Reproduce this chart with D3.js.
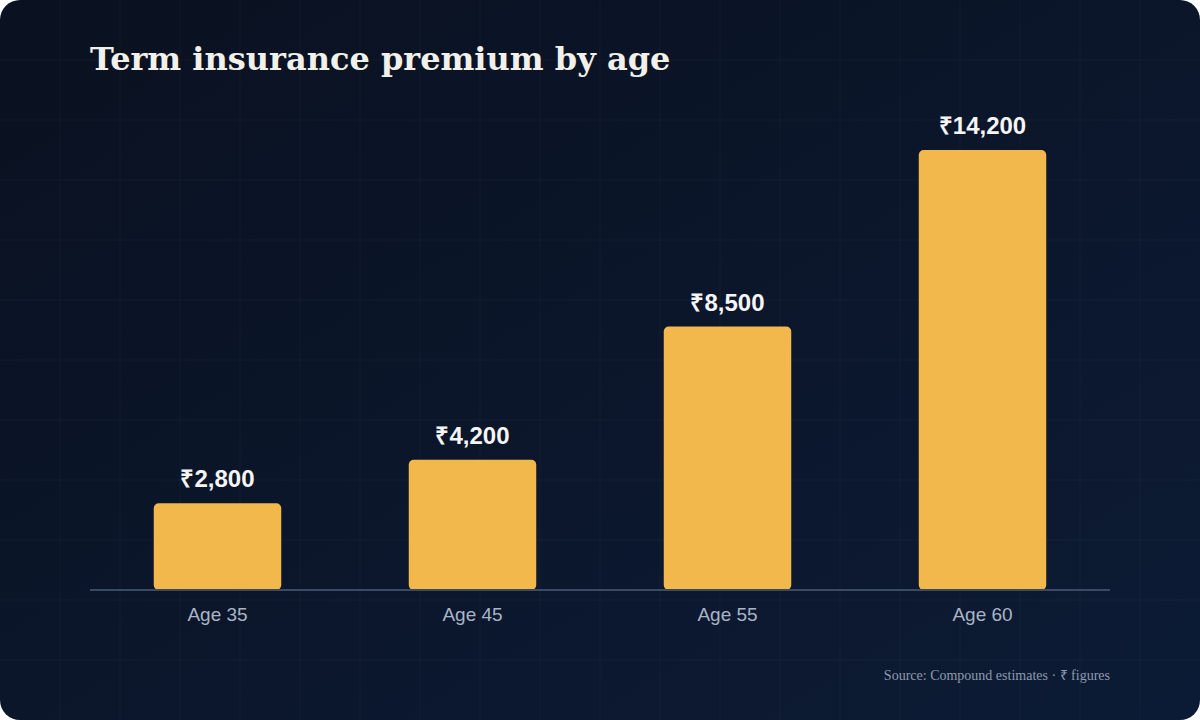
<!DOCTYPE html>
<html><head><meta charset="utf-8">
<script src="https://cdn.jsdelivr.net/npm/d3@7"></script>
<style>
body{margin:0;background:#fff;}
svg{display:block;}
</style></head>
<body>
<script>
const ages = ["Age 35", "Age 45", "Age 55", "Age 60"];
const premiums = [2800, 4200, 8500, 14200];

const W = 1200, H = 720;
const svg = d3.select("body").append("svg").attr("width", W).attr("height", H);

const defs = svg.append("defs");
const grad = defs.append("linearGradient").attr("id", "bg")
  .attr("x1", "0").attr("y1", "0").attr("x2", "1").attr("y2", "1");
grad.append("stop").attr("offset", "0").attr("stop-color", "#0a1120");
grad.append("stop").attr("offset", "1").attr("stop-color", "#0c1b35");
defs.append("clipPath").attr("id", "card")
  .append("rect").attr("width", W).attr("height", H).attr("rx", 20);

const card = svg.append("g").attr("clip-path", "url(#card)");
card.append("rect").attr("width", W).attr("height", H).attr("fill", "url(#bg)");

// faint background grid
const grid = card.append("g").attr("stroke", "#ffffff").attr("stroke-opacity", 0.035);
grid.selectAll("line.v").data(d3.range(60, W, 60)).enter().append("line")
  .attr("x1", d => d).attr("x2", d => d).attr("y1", 0).attr("y2", H);
grid.selectAll("line.h").data(d3.range(60, H, 60)).enter().append("line")
  .attr("y1", d => d).attr("y2", d => d).attr("x1", 0).attr("x2", W);

svg.append("text").attr("x", 90).attr("y", 70)
  .attr("fill", "#f2f0ea").attr("font-family", "Georgia, 'DejaVu Serif', serif")
  .attr("font-weight", "bold").attr("font-size", 32)
  .text("Term insurance premium by age");

const x = d3.scaleBand().domain(ages).range([90, 1110]).paddingInner(0.5).paddingOuter(0.25);
const y = d3.scaleLinear().domain([0, 14200]).range([590, 150]);

svg.append("g").selectAll("rect").data(ages).enter().append("rect")
  .attr("x", d => x(d)).attr("width", x.bandwidth())
  .attr("y", (d, i) => y(premiums[i])).attr("height", (d, i) => y(0) - y(premiums[i]))
  .attr("rx", 5).attr("fill", "#f2b84b");

svg.append("g").selectAll("text").data(ages).enter().append("text")
  .attr("x", d => x(d) + x.bandwidth() / 2).attr("y", (d, i) => y(premiums[i]) - 16)
  .attr("text-anchor", "middle").attr("fill", "#f5f5f5")
  .attr("font-family", "'Liberation Sans', Arial, sans-serif").attr("font-weight", "bold").attr("font-size", 24)
  .text((d, i) => "₹" + d3.format(",")(premiums[i]));

const xAxis = svg.append("g").attr("transform", "translate(0,590)")
  .call(d3.axisBottom(x).tickSize(0).tickPadding(18));
xAxis.select(".domain").attr("stroke", "#3a4a64").attr("stroke-width", 2).attr("d", "M90,0H1110");
xAxis.selectAll("text").attr("fill", "#a9b4c6").attr("font-size", 19)
  .attr("font-family", "'Liberation Sans', Arial, sans-serif");

svg.append("text").attr("x", 1110).attr("y", 680).attr("text-anchor", "end")
  .attr("fill", "#8e9ab0").attr("font-family", "'Liberation Serif', 'Times New Roman', serif")
  .attr("font-size", 14).text("Source: Compound estimates · ₹ figures");
</script>
</body></html>
